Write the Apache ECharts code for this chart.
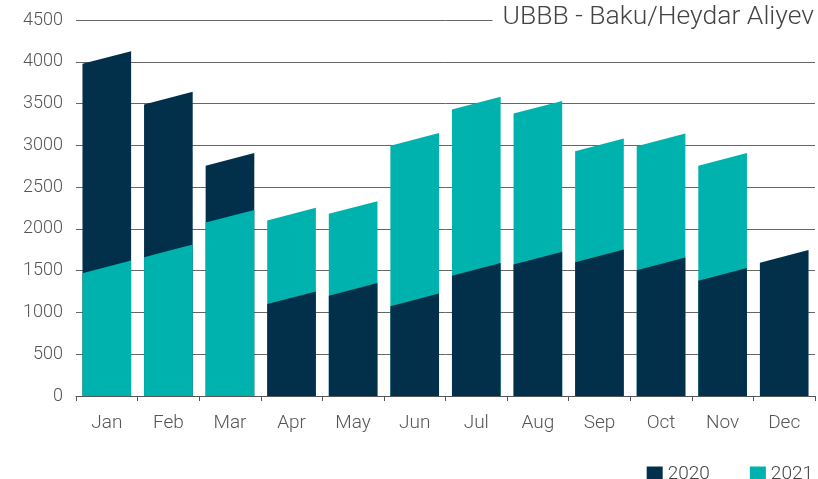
<!DOCTYPE html>
<html>
<head>
<meta charset="utf-8">
<script src="https://cdn.jsdelivr.net/npm/echarts@6/dist/echarts.min.js"></script>
<style>
  html, body { margin: 0; padding: 0; background: #fff; }
  #chart { width: 818px; height: 479px; }
</style>
</head>
<body>
<div id="chart"></div>
<script>
const months = ["Jan", "Feb", "Mar", "Apr", "May", "Jun", "Jul", "Aug", "Sep", "Oct", "Nov", "Dec"];
const values2020 = [3975, 3490, 2755, 1100, 1200, 1075, 1440, 1575, 1600, 1505, 1380, 1595];
const values2021 = [1470, 1660, 2075, 2100, 2180, 2995, 3430, 3380, 2930, 2990, 2755, null];

const DARK = "#02304b";
const TEAL = "#00b2ad";
const TEXT = "#555";
const SLANT = 12.7; // px rise of the right edge of each bar top

// draws a bar with a slanted top; the smaller of the two years sits in front
const makeRender = (other) => (params, api) => {
  const i = api.value(0);
  const v = api.value(1);
  if (v == null || isNaN(v)) return;
  const base = api.coord([i, 0]);
  const top = api.coord([i, v]);
  const w = api.size([1, 0])[0] * 0.79;
  const x0 = base[0] - w / 2;
  const x1 = base[0] + w / 2;
  const o = other[i];
  const front = o == null || v <= o;
  return {
    type: "polygon",
    z2: front ? 20 : 10,
    shape: {
      points: [
        [x0, base[1]],
        [x0, top[1]],
        [x1, top[1] - SLANT],
        [x1, base[1]],
      ],
    },
    style: { fill: api.visual("color") },
  };
};

const chart = echarts.init(document.getElementById("chart"));

const option = {
  animation: false,
  title: {
    text: "UBBB - Baku/Heydar Aliyev",
    right: 2,
    top: 2,
    backgroundColor: "#fff",
    padding: [2, 2, 2, 10],
    textStyle: {
      fontFamily: "Roboto",
      fontWeight: 300,
      fontSize: 26.5,
      color: "#444",
    },
  },
  legend: {
    data: ["2020", "2021"],
    right: 5,
    top: 465,
    padding: 0,
    icon: "rect",
    itemWidth: 16,
    itemHeight: 16,
    itemGap: 40,
    textStyle: {
      fontFamily: "Roboto",
      fontWeight: 300,
      fontSize: 19,
      color: "#444",
    },
  },
  grid: {
    left: 76,
    right: 3,
    top: 20,
    bottom: 83,
  },
  xAxis: {
    type: "category",
    data: months,
    axisLine: { show: true, lineStyle: { color: TEXT, width: 1 } },
    axisTick: { show: true, length: 5, lineStyle: { color: TEXT } },
    axisLabel: {
      fontFamily: "Roboto",
      fontWeight: 300,
      fontSize: 19,
      color: TEXT,
      margin: 18,
    },
  },
  yAxis: {
    type: "value",
    min: 0,
    max: 4500,
    interval: 500,
    axisLine: { show: false },
    axisTick: { show: false },
    axisLabel: {
      fontFamily: "Roboto",
      fontWeight: 300,
      fontSize: 18,
      color: TEXT,
      margin: 13,
      formatter: (v) => String(v),
    },
    splitLine: {
      lineStyle: { color: "#666", width: 1 },
    },
  },
  series: [
    {
      name: "2020",
      type: "custom",
      clip: false,
      itemStyle: { color: DARK },
      encode: { x: 0, y: 1 },
      data: values2020.map((v, i) => [i, v]),
      renderItem: makeRender(values2021),
    },
    {
      name: "2021",
      type: "custom",
      clip: false,
      itemStyle: { color: TEAL },
      encode: { x: 0, y: 1 },
      data: values2021.map((v, i) => [i, v]),
      renderItem: makeRender(values2020),
    },
  ],
};

chart.setOption(option);
</script>
</body>
</html>
